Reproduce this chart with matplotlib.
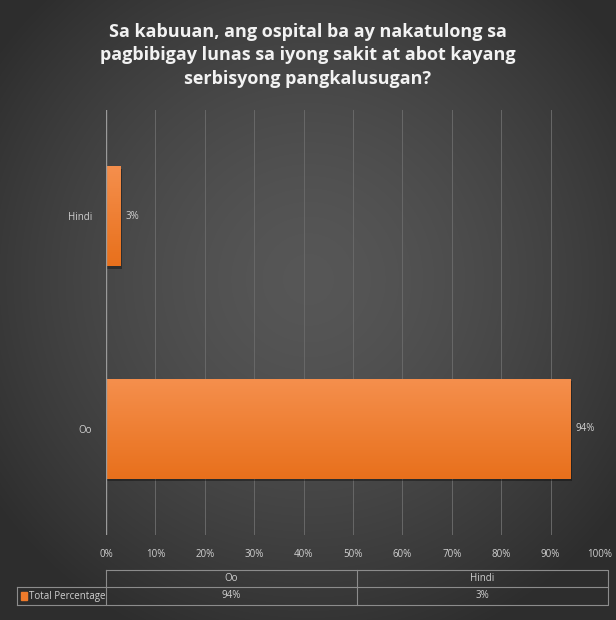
import matplotlib.pyplot as plt
import numpy as np

# survey answers
categories = ["Oo", "Hindi"]
percent = [94, 3]
series_name = "Total Percentage"
ticks = list(range(0, 101, 10))
title = ("Sa kabuuan, ang ospital ba ay nakatulong sa\n"
         "pagbibigay lunas sa iyong sakit at abot kayang\n"
         "serbisyong pangkalusugan?")

W, H = 616, 620
fig = plt.figure(figsize=(W / 100, H / 100), dpi=100)

# dark radial background
bg = fig.add_axes([0, 0, 1, 1], zorder=-5)
yy, xx = np.mgrid[0:H, 0:W]
r = np.sqrt(((xx - W / 2) / (W * 0.62)) ** 2 + ((yy - H * 0.45) / (H * 0.62)) ** 2)
shade = 0.34 - 0.16 * np.clip(r, 0, 1) ** 1.5
bg.imshow(np.dstack([shade] * 3), extent=[0, W, H, 0], aspect="auto")
bg.set_xlim(0, W)
bg.set_ylim(H, 0)
bg.axis("off")

txt = "#d0d0d0"
font = "Open Sans"

fig.text(0.5, 0.963, title, ha="center", va="top", color="#f2f2f2",
         fontsize=13, fontweight="bold", family=font, linespacing=1.38)

ax = fig.add_axes([106 / W, 1 - 535 / H, 494 / W, 425 / H])
ax.patch.set_alpha(0)
y = np.arange(len(categories))
bars = ax.barh(y, percent, height=0.47, color="#ef7a2a", zorder=3)

# orange vertical gradient inside each bar
grad = np.linspace(0, 1, 50).reshape(-1, 1)
top_c = np.array([0.96, 0.56, 0.30])
bot_c = np.array([0.91, 0.44, 0.11])
img = top_c * (1 - grad[..., None]) + bot_c * grad[..., None]
for b in bars:
    x0, y0, w, h = b.get_x(), b.get_y(), b.get_width(), b.get_height()
    sh = plt.Rectangle((x0 + 0.3, y0 - 0.012), w, h, color="black", alpha=0.35,
                       zorder=2, lw=0)
    ax.add_patch(sh)
    im = ax.imshow(img, extent=[x0, x0 + w, y0, y0 + h], aspect="auto",
                   zorder=4, origin="upper")
    im.set_clip_path(b)

for yi, v in zip(y, percent):
    ax.text(v + 1, yi, f"{v}%", va="center", ha="left", color=txt,
            fontsize=7, family=font)

ax.set_xlim(0, 100)
ax.set_ylim(-0.5, 1.5)
ax.set_xticks(ticks)
ax.set_xticklabels([f"{t}%" for t in ticks], color=txt, fontsize=7, family=font)
ax.set_yticks(y)
ax.set_yticklabels(categories, color=txt, fontsize=7, family=font)
ax.tick_params(length=0, pad=10)
ax.grid(axis="x", color="#686868", lw=0.7, zorder=0)
for s in ax.spines.values():
    s.set_visible(False)
ax.axvline(0, color="#9a9a9a", lw=1, zorder=5)

# data table under the axis
tb = fig.add_axes([0, 0, 1, 1], zorder=-1)
tb.set_xlim(0, W)
tb.set_ylim(H, 0)
tb.axis("off")
lc = "#8c8c8c"
x_left, x0, x1 = 17, 106, 608
xm = (x0 + x1) / 2
y_top, y_mid, y_bot = 570, 587, 605
tb.plot([x0, x1, x1, x0, x0], [y_top, y_top, y_bot, y_bot, y_top], color=lc, lw=0.8)
tb.plot([x_left, x0], [y_mid, y_mid], color=lc, lw=0.8)
tb.plot([x0, x1], [y_mid, y_mid], color=lc, lw=0.8)
tb.plot([x_left, x0], [y_bot, y_bot], color=lc, lw=0.8)
tb.plot([x_left, x_left], [y_mid, y_bot], color=lc, lw=0.8)
tb.plot([xm, xm], [y_top, y_bot], color=lc, lw=0.8)
cols = [(x0 + xm) / 2, (xm + x1) / 2]
for cx, c, v in zip(cols, categories, percent):
    tb.text(cx, (y_top + y_mid) / 2, c, ha="center", va="center", color=txt,
            fontsize=7, family=font)
    tb.text(cx, (y_mid + y_bot) / 2, f"{v}%", ha="center", va="center", color=txt,
            fontsize=7, family=font)
tb.add_patch(plt.Rectangle((21, 592), 6, 8, color="#ef7a2a"))
tb.text(29, (y_mid + y_bot) / 2, series_name, ha="left", va="center", color=txt,
        fontsize=7, family=font)

fig.savefig("out.png", dpi=100)
